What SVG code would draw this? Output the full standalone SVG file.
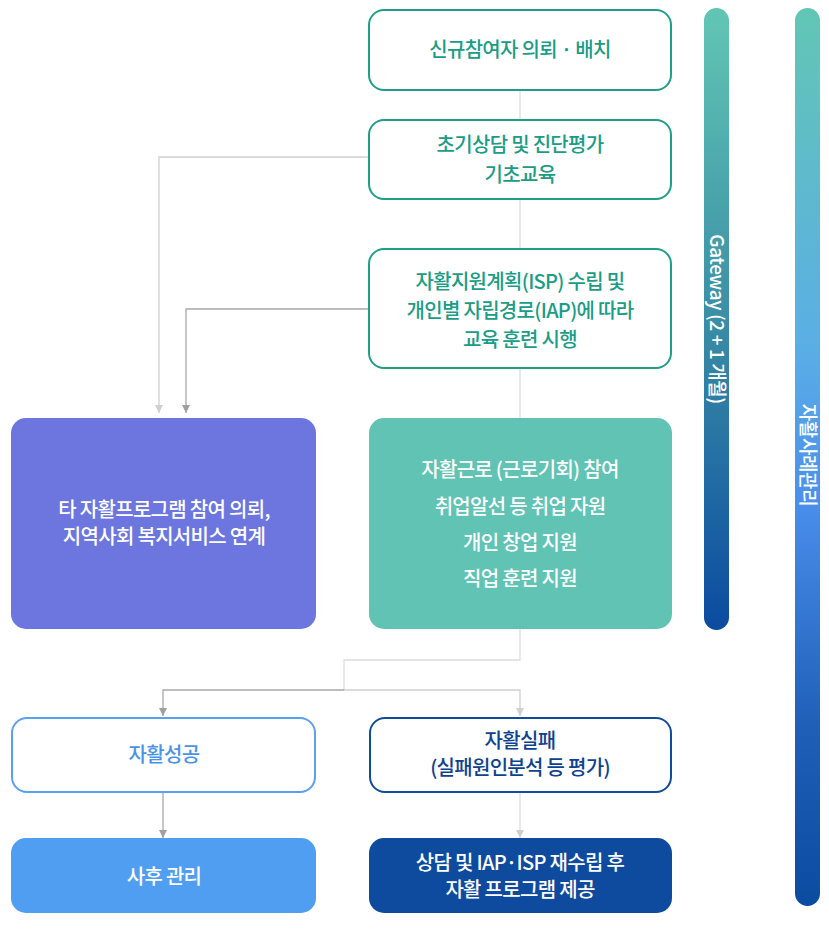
<svg xmlns="http://www.w3.org/2000/svg" width="829" height="945" viewBox="0 0 829 945">
<style>
text{font-family:"Noto Sans CJK KR","Noto Sans",sans-serif;font-weight:500;text-anchor:middle;font-size:20px;letter-spacing:-0.7px}
.tl{fill:#1b9c86}
.wt{fill:#ffffff}
.ob{fill:#fff;stroke:#1f9e88;stroke-width:2}
.c1{fill:none;stroke:#dcdcdc;stroke-width:1.3}
.c2{fill:none;stroke:#cfcfcf;stroke-width:1.3}
.c3{fill:none;stroke:#a8a8a8;stroke-width:1.3}
.vt{font-size:19px;fill:#fff;letter-spacing:-0.4px}
</style>
<defs>
<marker id="aL" viewBox="0 0 10 10" refX="10" refY="5" markerWidth="8" markerHeight="8" markerUnits="userSpaceOnUse" orient="auto"><path d="M0,0L10,5L0,10z" fill="#cfcfcf"/></marker>
<marker id="aD" viewBox="0 0 10 10" refX="10" refY="5" markerWidth="8" markerHeight="8" markerUnits="userSpaceOnUse" orient="auto"><path d="M0,0L10,5L0,10z" fill="#a0a0a0"/></marker>
<linearGradient id="g1" x1="0" y1="0" x2="0" y2="1">
<stop offset="0" stop-color="#62c6b4"/>
<stop offset="0.5" stop-color="#3a8ea6"/>
<stop offset="1" stop-color="#0b4ba0"/>
</linearGradient>
<linearGradient id="g2" x1="0" y1="0" x2="0" y2="1">
<stop offset="0" stop-color="#62c6b4"/>
<stop offset="0.38" stop-color="#5aaee6"/>
<stop offset="0.55" stop-color="#4a8fec"/>
<stop offset="0.8" stop-color="#1f5fb8"/>
<stop offset="1" stop-color="#0b4ba0"/>
</linearGradient>
</defs>

<g id="connectors">
<path class="c1" d="M520,90V120"/>
<path class="c1" d="M520,199V249"/>
<path class="c1" d="M520,368V418"/>
<path class="c2" d="M369,157H159V413" marker-end="url(#aL)"/>
<path class="c3" d="M369,309H186V413" marker-end="url(#aD)"/>
<path class="c1" d="M520,629V660H344V690"/>
<path class="c3" d="M344,690H163V716" marker-end="url(#aD)"/>
<path class="c2" d="M344,690H520V716" marker-end="url(#aL)"/>
<path class="c3" d="M163,792V838" marker-end="url(#aD)"/>
<path class="c1" d="M520,792V838" marker-end="url(#aL)"/>
</g>

<g id="n1">
<rect class="ob" x="369" y="10" width="302" height="80" rx="15"/>
<text class="tl" x="520" y="57">신규참여자 의뢰 · 배치</text>
</g>
<g id="n2">
<rect class="ob" x="369" y="120" width="302" height="79" rx="15"/>
<text class="tl" x="520" y="152">초기상담 및 진단평가</text>
<text class="tl" x="520" y="182">기초교육</text>
</g>
<g id="n3">
<rect class="ob" x="369" y="249" width="302" height="119" rx="15"/>
<text class="tl" x="520" y="289">자활지원계획(ISP) 수립 및</text>
<text class="tl" x="520" y="318">개인별 자립경로(IAP)에 따라</text>
<text class="tl" x="520" y="347">교육 훈련 시행</text>
</g>
<g id="n4">
<rect x="11" y="418" width="305" height="211" rx="15" fill="#6c76de"/>
<text class="wt" x="164" y="517">타 자활프로그램 참여 의뢰,</text>
<text class="wt" x="164" y="544">지역사회 복지서비스 연계</text>
</g>
<g id="n5">
<rect x="369" y="418" width="303" height="211" rx="15" fill="#60c3b3"/>
<text class="wt" x="520" y="477">자활근로 (근로기회) 참여</text>
<text class="wt" x="520" y="514">취업알선 등 취업 자원</text>
<text class="wt" x="520" y="550">개인 창업 지원</text>
<text class="wt" x="520" y="586">직업 훈련 지원</text>
</g>
<g id="n6">
<rect x="12" y="718" width="303" height="74" rx="15" fill="#fff" stroke="#5aa0f0" stroke-width="2"/>
<text x="164" y="762" fill="#4a92e8">자활성공</text>
</g>
<g id="n7">
<rect x="370" y="718" width="301" height="74" rx="15" fill="#fff" stroke="#0f4c9e" stroke-width="2"/>
<text x="520" y="748" fill="#0e428f">자활실패</text>
<text x="520" y="775" fill="#0e428f">(실패원인분석 등 평가)</text>
</g>
<g id="n8">
<rect x="11" y="838" width="305" height="75" rx="15" fill="#4f9ef1"/>
<text class="wt" x="164" y="884">사후 관리</text>
</g>
<g id="n9">
<rect x="369" y="838" width="303" height="75" rx="15" fill="#0e4b9e"/>
<text class="wt" x="520" y="870">상담 및 IAP·ISP 재수립 후</text>
<text class="wt" x="520" y="897">자활 프로그램 제공</text>
</g>

<g id="bar-gateway">
<rect x="704" y="8" width="25" height="622" rx="12.5" fill="url(#g1)"/>
<text class="vt" transform="translate(710,319) rotate(90)">Gateway (2 + 1 개월)</text>
</g>
<g id="bar-case">
<rect x="795" y="8" width="25" height="898" rx="12.5" fill="url(#g2)"/>
<text class="vt" transform="translate(801,455) rotate(90)">자활사례관리</text>
</g>
</svg>
